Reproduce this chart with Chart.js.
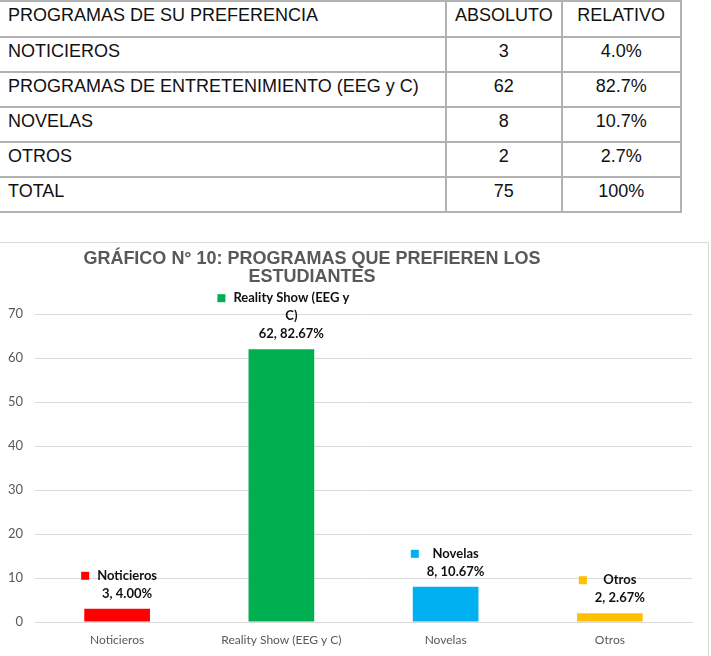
<!DOCTYPE html>
<html lang="es">
<head>
    <meta charset="UTF-8">
    <title>Gráfico N° 10</title>
    <script src="https://cdn.jsdelivr.net/npm/chart.js"></script>
</head>
<style>
    body { margin: 0; background: white; width: 711px; height: 656px; overflow: hidden; position: relative; }
    .tabla {
        position: absolute; top: 0; left: 0;
        border-collapse: collapse;
        font-family: "Liberation Sans", Arial, sans-serif;
        font-size: 18px; color: #111;
    }
    .tabla td {
        border: 2px solid #b2b2b2;
        vertical-align: top;
        line-height: 20px;
        padding: 3px 8px 0 8px;
        box-sizing: border-box;
    }
    .tabla td:first-child { border-left: none; width: 446px; }
    .tabla td.num { text-align: center; }
    .tabla td.c2 { width: 110px; }
    .tabla td.c3 { width: 119px; }
    .chartBox {
        position: absolute; top: 242px; left: -1px;
        width: 710px; height: 430px;
        border: 1px solid #d9d9d9; box-sizing: border-box;
    }
    #grafico { position: absolute; top: 242px; left: 0; }
</style>
<body>
<table class="tabla">
    <tr style="height:36px"><td>PROGRAMAS DE SU PREFERENCIA</td><td class="num c2">ABSOLUTO</td><td class="num c3">RELATIVO</td></tr>
    <tr style="height:35px"><td>NOTICIEROS</td><td class="num">3</td><td class="num">4.0%</td></tr>
    <tr style="height:35px"><td>PROGRAMAS DE ENTRETENIMIENTO (EEG y C)</td><td class="num">62</td><td class="num">82.7%</td></tr>
    <tr style="height:35px"><td>NOVELAS</td><td class="num">8</td><td class="num">10.7%</td></tr>
    <tr style="height:35px"><td>OTROS</td><td class="num">2</td><td class="num">2.7%</td></tr>
    <tr style="height:35px"><td>TOTAL</td><td class="num">75</td><td class="num">100%</td></tr>
</table>
<div class="chartBox"></div>
<canvas id="grafico" width="711" height="414"></canvas>
<script>
    const categorias = ['Noticieros', 'Reality Show (EEG y C)', 'Novelas', 'Otros'];
    const valores = [3, 62, 8, 2];
    const porcentajes = [4.00, 82.67, 10.67, 2.67];
    const colores = ['#ff0000', '#00b050', '#00b0f0', '#ffc000'];
    const tituloLineas = ['GRÁFICO N° 10: PROGRAMAS QUE PREFIEREN LOS', 'ESTUDIANTES'];

    // titulo dibujado a mano porque en el original no esta centrado
    const tituloPlugin = {
        id: 'tituloManual',
        afterDraw(chart) {
            const ctx = chart.ctx;
            ctx.save();
            ctx.font = 'bold 18px "Liberation Sans", Arial, sans-serif';
            ctx.fillStyle = '#595959';
            ctx.textAlign = 'center';
            ctx.textBaseline = 'middle';
            tituloLineas.forEach((t, i) => ctx.fillText(t, 312, 17 + i * 18));
            ctx.restore();
        }
    };

    function partir(ctx, texto, maxW) {
        const palabras = texto.split(' ');
        const lineas = [];
        let actual = '';
        palabras.forEach(p => {
            const prueba = actual ? actual + ' ' + p : p;
            if (actual && ctx.measureText(prueba).width > maxW) {
                lineas.push(actual);
                actual = p;
            } else {
                actual = prueba;
            }
        });
        if (actual) lineas.push(actual);
        return lineas;
    }

    // etiquetas estilo Excel: clave de color + nombre, y "valor, porcentaje"
    const etiquetasPlugin = {
        id: 'etiquetas',
        afterDatasetsDraw(chart) {
            const ctx = chart.ctx;
            const meta = chart.getDatasetMeta(0);
            ctx.save();
            ctx.font = 'bold 13px Lato, sans-serif';
            ctx.textAlign = 'center';
            ctx.textBaseline = 'middle';
            meta.data.forEach((bar, i) => {
                const lineas = partir(ctx, categorias[i], 125);
                lineas.push(valores[i] + ', ' + porcentajes[i].toFixed(2) + '%');
                const textW = Math.max(...lineas.map(l => ctx.measureText(l).width));
                const cajaW = 16 + textW;
                const izq = bar.x + 2 - cajaW / 2;
                const cx = izq + 16 + textW / 2;
                const yUltima = bar.y - 15;
                lineas.forEach((l, j) => {
                    const y = yUltima - (lineas.length - 1 - j) * 18;
                    ctx.fillStyle = '#111';
                    ctx.fillText(l, cx, y);
                    if (j === 0) {
                        ctx.fillStyle = colores[i];
                        ctx.fillRect(izq, y - 4, 8, 8);
                    }
                });
            });
            ctx.restore();
        }
    };

    new Chart(document.getElementById('grafico'), {
        type: 'bar',
        data: {
            labels: categorias,
            datasets: [{
                data: valores,
                backgroundColor: colores,
                barPercentage: 0.8,
                categoryPercentage: 0.5
            }]
        },
        options: {
            responsive: false,
            animation: false,
            layout: { padding: { top: 72, left: 0, right: 19, bottom: 0 } },
            plugins: {
                legend: { display: false },
                tooltip: { enabled: false }
            },
            scales: {
                x: {
                    afterFit: s => { s.height = 34; },
                    grid: { display: false, drawTicks: false },
                    border: { color: '#d9d9d9' },
                    ticks: { color: '#595959', font: { family: 'Lato', size: 12 }, padding: 11 }
                },
                y: {
                    min: 0, max: 70,
                    afterFit: s => { s.width = 35; },
                    grid: { color: '#d9d9d9', drawTicks: false },
                    border: { display: false },
                    ticks: { stepSize: 10, color: '#595959', font: { family: 'Lato', size: 13 }, padding: 12 }
                }
            }
        },
        plugins: [tituloPlugin, etiquetasPlugin]
    });
</script>
</body>
</html>
